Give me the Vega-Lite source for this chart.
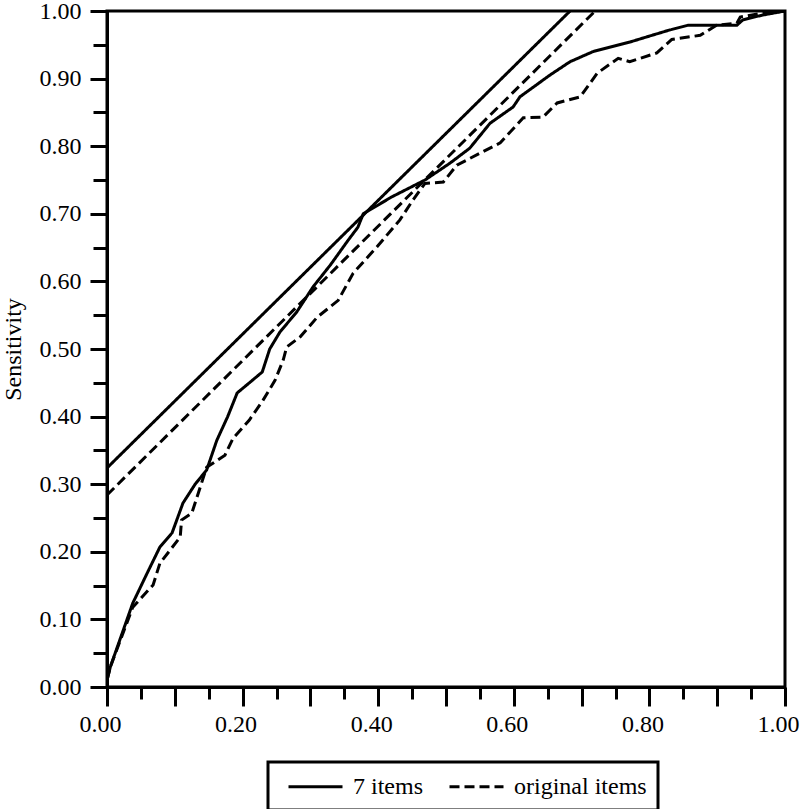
{
  "$schema": "https://vega.github.io/schema/vega-lite/v6.json",
  "width": 678,
  "height": 676,
  "autosize": "none",
  "padding": {"left": 107, "top": 11, "right": 15, "bottom": 122},
  "background": "white",
  "config": {
    "view": {"stroke": "black", "strokeWidth": 3},
    "axis": {
      "grid": false,
      "domainColor": "black",
      "domainWidth": 3,
      "tickColor": "black",
      "tickWidth": 3,
      "labelFont": "Liberation Serif",
      "labelFontSize": 24,
      "labelColor": "black",
      "labelFlush": false,
      "titleFont": "Liberation Serif",
      "titleFontSize": 24,
      "titleFontWeight": "normal",
      "titleColor": "black"
    },
    "legend": {
      "strokeColor": "black",
      "strokeWidth": 3,
      "labelFont": "Liberation Serif",
      "labelFontSize": 24,
      "labelColor": "black",
      "padding": 11,
      "fillColor": "white"
    }
  },
  "data": {
    "values": [
      {"series": "7 items", "part": "curve", "fpr": 0.0, "sens": 0.01},
      {"series": "7 items", "part": "curve", "fpr": 0.005, "sens": 0.03},
      {"series": "7 items", "part": "curve", "fpr": 0.038, "sens": 0.124},
      {"series": "7 items", "part": "curve", "fpr": 0.06, "sens": 0.17},
      {"series": "7 items", "part": "curve", "fpr": 0.078, "sens": 0.207},
      {"series": "7 items", "part": "curve", "fpr": 0.096, "sens": 0.228},
      {"series": "7 items", "part": "curve", "fpr": 0.112, "sens": 0.272},
      {"series": "7 items", "part": "curve", "fpr": 0.13, "sens": 0.3},
      {"series": "7 items", "part": "curve", "fpr": 0.147, "sens": 0.321},
      {"series": "7 items", "part": "curve", "fpr": 0.162, "sens": 0.365},
      {"series": "7 items", "part": "curve", "fpr": 0.178, "sens": 0.4},
      {"series": "7 items", "part": "curve", "fpr": 0.192, "sens": 0.435},
      {"series": "7 items", "part": "curve", "fpr": 0.21, "sens": 0.45},
      {"series": "7 items", "part": "curve", "fpr": 0.229, "sens": 0.466},
      {"series": "7 items", "part": "curve", "fpr": 0.24, "sens": 0.5},
      {"series": "7 items", "part": "curve", "fpr": 0.255, "sens": 0.525},
      {"series": "7 items", "part": "curve", "fpr": 0.28, "sens": 0.555},
      {"series": "7 items", "part": "curve", "fpr": 0.304, "sens": 0.592},
      {"series": "7 items", "part": "curve", "fpr": 0.33, "sens": 0.625},
      {"series": "7 items", "part": "curve", "fpr": 0.355, "sens": 0.66},
      {"series": "7 items", "part": "curve", "fpr": 0.37, "sens": 0.68},
      {"series": "7 items", "part": "curve", "fpr": 0.378, "sens": 0.7},
      {"series": "7 items", "part": "curve", "fpr": 0.42, "sens": 0.725},
      {"series": "7 items", "part": "curve", "fpr": 0.469, "sens": 0.75},
      {"series": "7 items", "part": "curve", "fpr": 0.506, "sens": 0.775},
      {"series": "7 items", "part": "curve", "fpr": 0.535, "sens": 0.797},
      {"series": "7 items", "part": "curve", "fpr": 0.565, "sens": 0.834},
      {"series": "7 items", "part": "curve", "fpr": 0.599, "sens": 0.858},
      {"series": "7 items", "part": "curve", "fpr": 0.609, "sens": 0.873},
      {"series": "7 items", "part": "curve", "fpr": 0.653, "sens": 0.905},
      {"series": "7 items", "part": "curve", "fpr": 0.683, "sens": 0.925},
      {"series": "7 items", "part": "curve", "fpr": 0.717, "sens": 0.94},
      {"series": "7 items", "part": "curve", "fpr": 0.771, "sens": 0.954},
      {"series": "7 items", "part": "curve", "fpr": 0.83, "sens": 0.972},
      {"series": "7 items", "part": "curve", "fpr": 0.857, "sens": 0.979},
      {"series": "7 items", "part": "curve", "fpr": 0.929, "sens": 0.979},
      {"series": "7 items", "part": "curve", "fpr": 0.938, "sens": 0.987},
      {"series": "7 items", "part": "curve", "fpr": 0.967, "sens": 0.994},
      {"series": "7 items", "part": "curve", "fpr": 1.0, "sens": 1.0},
      {"series": "original items", "part": "curve", "fpr": 0.0, "sens": 0.01},
      {"series": "original items", "part": "curve", "fpr": 0.005, "sens": 0.03},
      {"series": "original items", "part": "curve", "fpr": 0.038, "sens": 0.118},
      {"series": "original items", "part": "curve", "fpr": 0.068, "sens": 0.151},
      {"series": "original items", "part": "curve", "fpr": 0.078, "sens": 0.183},
      {"series": "original items", "part": "curve", "fpr": 0.095, "sens": 0.205},
      {"series": "original items", "part": "curve", "fpr": 0.108, "sens": 0.222},
      {"series": "original items", "part": "curve", "fpr": 0.11, "sens": 0.247},
      {"series": "original items", "part": "curve", "fpr": 0.125, "sens": 0.257},
      {"series": "original items", "part": "curve", "fpr": 0.147, "sens": 0.325},
      {"series": "original items", "part": "curve", "fpr": 0.174, "sens": 0.343},
      {"series": "original items", "part": "curve", "fpr": 0.186, "sens": 0.368},
      {"series": "original items", "part": "curve", "fpr": 0.21, "sens": 0.395},
      {"series": "original items", "part": "curve", "fpr": 0.23, "sens": 0.424},
      {"series": "original items", "part": "curve", "fpr": 0.248, "sens": 0.454},
      {"series": "original items", "part": "curve", "fpr": 0.26, "sens": 0.484},
      {"series": "original items", "part": "curve", "fpr": 0.265, "sens": 0.503},
      {"series": "original items", "part": "curve", "fpr": 0.285, "sens": 0.518},
      {"series": "original items", "part": "curve", "fpr": 0.31, "sens": 0.547},
      {"series": "original items", "part": "curve", "fpr": 0.341, "sens": 0.572},
      {"series": "original items", "part": "curve", "fpr": 0.363, "sens": 0.612},
      {"series": "original items", "part": "curve", "fpr": 0.398, "sens": 0.651},
      {"series": "original items", "part": "curve", "fpr": 0.432, "sens": 0.691},
      {"series": "original items", "part": "curve", "fpr": 0.451, "sens": 0.72},
      {"series": "original items", "part": "curve", "fpr": 0.469, "sens": 0.745},
      {"series": "original items", "part": "curve", "fpr": 0.496, "sens": 0.747},
      {"series": "original items", "part": "curve", "fpr": 0.516, "sens": 0.772},
      {"series": "original items", "part": "curve", "fpr": 0.58, "sens": 0.805},
      {"series": "original items", "part": "curve", "fpr": 0.614, "sens": 0.842},
      {"series": "original items", "part": "curve", "fpr": 0.643, "sens": 0.843},
      {"series": "original items", "part": "curve", "fpr": 0.664, "sens": 0.864},
      {"series": "original items", "part": "curve", "fpr": 0.698, "sens": 0.873},
      {"series": "original items", "part": "curve", "fpr": 0.723, "sens": 0.908},
      {"series": "original items", "part": "curve", "fpr": 0.754, "sens": 0.93},
      {"series": "original items", "part": "curve", "fpr": 0.771, "sens": 0.925},
      {"series": "original items", "part": "curve", "fpr": 0.811, "sens": 0.938},
      {"series": "original items", "part": "curve", "fpr": 0.833, "sens": 0.958},
      {"series": "original items", "part": "curve", "fpr": 0.875, "sens": 0.964},
      {"series": "original items", "part": "curve", "fpr": 0.899, "sens": 0.979},
      {"series": "original items", "part": "curve", "fpr": 0.929, "sens": 0.982},
      {"series": "original items", "part": "curve", "fpr": 0.934, "sens": 0.991},
      {"series": "original items", "part": "curve", "fpr": 0.967, "sens": 0.997},
      {"series": "original items", "part": "curve", "fpr": 1.0, "sens": 1.0},
      {"series": "7 items", "part": "tangent", "fpr": 0.0, "sens": 0.324},
      {"series": "7 items", "part": "tangent", "fpr": 0.683, "sens": 1.0},
      {"series": "original items", "part": "tangent", "fpr": 0.0, "sens": 0.284},
      {"series": "original items", "part": "tangent", "fpr": 0.72, "sens": 1.0}
    ]
  },
  "layer": [
    {
      "transform": [{"filter": "datum.part === 'curve'"}],
      "mark": {"type": "line", "color": "black", "strokeWidth": 3, "clip": true},
      "encoding": {
        "x": {
          "field": "fpr", "type": "quantitative",
          "scale": {"domain": [0, 1], "nice": false, "zero": false},
          "axis": {
            "orient": "bottom",
            "title": null,
            "values": [0, 0.1, 0.2, 0.3, 0.4, 0.5, 0.6, 0.7, 0.8, 0.9, 1.0],
            "tickSize": 19,
            "labelPadding": 6,
            "labelOffset": -7,
            "labelExpr": "abs(datum.value * 5 - round(datum.value * 5)) < 0.001 ? format(datum.value, '.2f') : ''"
          }
        },
        "y": {
          "field": "sens", "type": "quantitative",
          "scale": {"domain": [0, 1], "nice": false, "zero": false},
          "axis": {
            "orient": "left",
            "title": "Sensitivity",
            "titlePadding": 14,
            "values": [0, 0.1, 0.2, 0.3, 0.4, 0.5, 0.6, 0.7, 0.8, 0.9, 1.0],
            "format": ".2f",
            "tickSize": 17,
            "labelPadding": 9
          }
        },
        "strokeDash": {
          "field": "series", "type": "nominal",
          "scale": {"domain": ["7 items", "original items"], "range": [[1, 0], [10, 5]]},
          "legend": {
            "title": null,
            "orient": "none",
            "direction": "horizontal",
            "legendX": 161,
            "legendY": 751,
            "symbolType": "M-2.25,0H2.25",
            "symbolFillColor": "transparent",
            "symbolStrokeColor": "black",
            "symbolStrokeWidth": 3,
            "symbolSize": 576,
            "symbolOffset": 23,
            "labelOffset": 24,
            "columnPadding": 17
          }
        },
        "detail": {"field": "part"}
      }
    },
    {
      "transform": [{"filter": "datum.part === 'tangent'"}],
      "mark": {"type": "line", "color": "black", "strokeWidth": 3, "clip": true},
      "encoding": {
        "x": {
          "field": "fpr", "type": "quantitative",
          "axis": {
            "orient": "bottom",
            "title": null,
            "values": [0.05, 0.15, 0.25, 0.35, 0.45, 0.55, 0.65, 0.75, 0.85, 0.95],
            "tickSize": 12,
            "labels": false
          }
        },
        "y": {
          "field": "sens", "type": "quantitative",
          "axis": {
            "orient": "left",
            "title": null,
            "values": [0.05, 0.15, 0.25, 0.35, 0.45, 0.55, 0.65, 0.75, 0.85, 0.95],
            "tickSize": 14,
            "labels": false
          }
        },
        "strokeDash": {"field": "series", "type": "nominal"},
        "detail": {"field": "part"}
      }
    }
  ],
  "resolve": {"axis": {"x": "independent", "y": "independent"}}
}
